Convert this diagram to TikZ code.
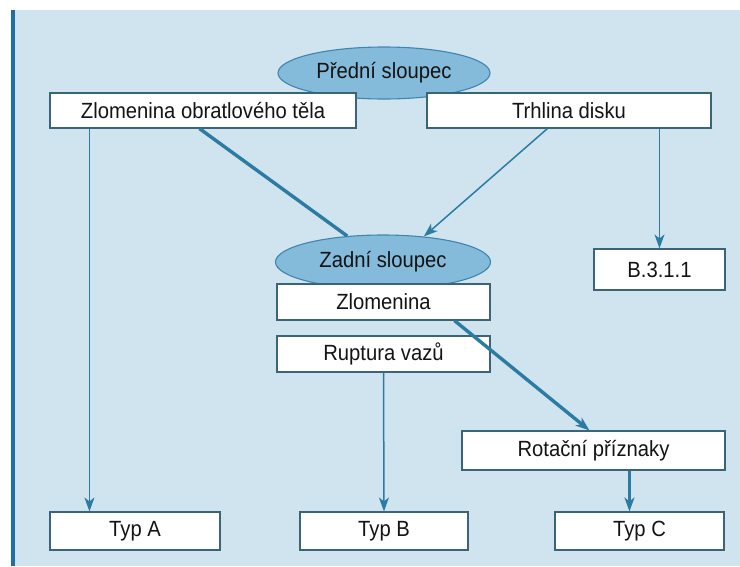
\documentclass[tikz,border=0pt]{standalone}
\usepackage{fontspec}
\setmainfont{Liberation Sans}[FakeStretch=0.92]
\usetikzlibrary{shapes.geometric,arrows.meta}
\definecolor{bgblue}{HTML}{D0E4EF}
\definecolor{barblue}{HTML}{1F6FA6}
\definecolor{lineblue}{HTML}{2B7BA3}
\definecolor{ellfill}{HTML}{84BADA}
\definecolor{ellline}{HTML}{3F86AE}
\definecolor{boxline}{HTML}{3B6478}
\definecolor{txt}{HTML}{141414}
\tikzset{
  box/.style={draw=boxline, line width=1.1pt, fill=white, inner sep=0pt,
    font=\fontsize{22}{24}\selectfont, text=txt},
  ell/.style={ellipse, draw=ellline, line width=1.1pt, fill=ellfill, inner sep=0pt,
    font=\fontsize{22}{24}\selectfont, text=txt},
  thin/.style={draw=lineblue, line width=1.5pt},
  thick/.style={draw=lineblue, line width=3.4pt},
  tip/.style={-{Stealth[length=14pt,width=10pt,inset=4pt]}},
}
\begin{document}
\begin{tikzpicture}[x=1pt,y=-1pt]
\useasboundingbox (0,0) rectangle (740,566);
\fill[white] (0,0) rectangle (740,566);
\fill[bgblue] (11,10) rectangle (740,566);
\fill[barblue] (11,10) rectangle (14.5,566);

% ellipses first (boxes overlap them)
\node[ell, minimum width=212pt, minimum height=52pt] (pred) at (384,73) {\raisebox{4pt}{Přední sloupec}};
\node[ell, minimum width=215pt, minimum height=54pt] (zs) at (383,262) {\raisebox{3pt}{Zadní sloupec}};

\node[box, minimum width=306pt, minimum height=35pt] (zot) at (203,110.5) {Zlomenina obratlového těla};
\node[box, minimum width=284pt, minimum height=35pt] (tr) at (569,110.5) {Trhlina disku};
\node[box, minimum width=213pt, minimum height=36pt] (zl) at (383.5,302) {Zlomenina};
\node[box, minimum width=213pt, minimum height=36pt] (rv) at (383.5,354) {Ruptura vazů};
\node[box, minimum width=131pt, minimum height=41pt] (b) at (659.5,269.5) {B.3.1.1};
\node[box, minimum width=263pt, minimum height=39pt] (rot) at (593.5,450.5) {Rotační příznaky};
\node[box, minimum width=170pt, minimum height=38pt] (ta) at (135,531) {Typ A};
\node[box, minimum width=168pt, minimum height=38pt] (tb) at (384,531) {Typ B};
\node[box, minimum width=169pt, minimum height=38pt] (tc) at (639.5,531) {Typ C};

% connectors
\coordinate (a1) at ([xshift=40pt]zot.south west);
\draw[thin,tip] (a1) -- (a1 |- ta.north);
\coordinate (a2) at ([xshift=150pt]zot.south west);
\draw[thick] (a2) -- (zs);
\coordinate (a3) at ([xshift=121pt]tr.south west);
\draw[thin,tip] (a3) -- (zs.32);
\draw[thin,tip] (tr.south -| b.north) -- (b.north);
\coordinate (a4) at ([xshift=178pt]zl.south west);
\draw[thick,tip] (a4) -- ([xshift=-4pt]rot.north);
\draw[thin,tip] (rv.south) -- (tb.north);
\coordinate (a5) at ([xshift=168pt]rot.south west);
\draw[thin,line width=2.2pt,tip] (a5) -- (a5 |- tc.north);
\end{tikzpicture}
\end{document}
